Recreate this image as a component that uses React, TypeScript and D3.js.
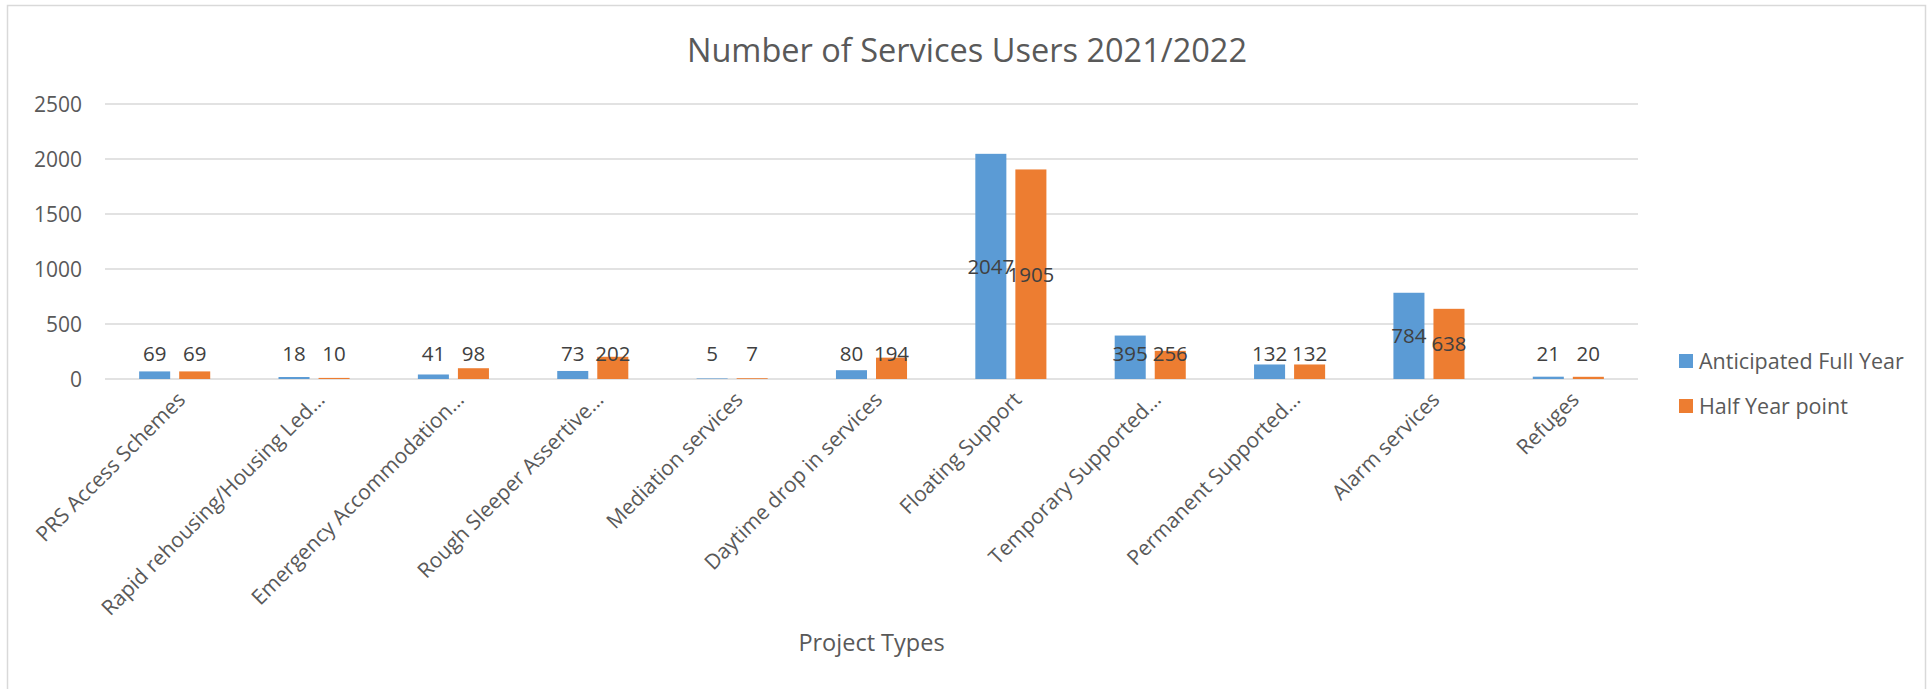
import React from "react";
import * as d3 from "d3";

const categories: string[] = [
  "PRS Access Schemes",
  "Rapid rehousing/Housing Led…",
  "Emergency Accommodation…",
  "Rough Sleeper Assertive…",
  "Mediation services",
  "Daytime drop in services",
  "Floating Support",
  "Temporary Supported…",
  "Permanent Supported…",
  "Alarm services",
  "Refuges",
];
const seriesNames: string[] = ["Anticipated Full Year", "Half Year point"];
const anticipatedFullYear: number[] = [69, 18, 41, 73, 5, 80, 2047, 395, 132, 784, 21];
const halfYearPoint: number[] = [69, 10, 98, 202, 7, 194, 1905, 256, 132, 638, 20];
const yTicks: number[] = [0, 500, 1000, 1500, 2000, 2500];
const colors: string[] = ["#5B9BD5", "#ED7D31"];

const W = 1928;
const H = 689;
const FONT = "'Open Sans', 'Segoe UI', Roboto, sans-serif";

export default function App() {
  const plotLeft = 105;
  const plotRight = 1638;
  const plotTop = 104;
  const plotBottom = 379;

  const x0 = d3.scaleBand<string>().domain(categories).range([plotLeft, plotRight]).padding(0);
  const bw0 = x0.bandwidth();
  const x1 = d3
    .scaleBand<string>()
    .domain(seriesNames)
    .range([bw0 * 0.245, bw0 * 0.755])
    .paddingInner(0.225)
    .paddingOuter(0);
  const y = d3.scaleLinear().domain([0, 2500]).range([plotBottom, plotTop]);

  const seriesValues = [anticipatedFullYear, halfYearPoint];

  return (
    <svg
      width={W}
      height={H}
      style={{ position: "absolute", left: 0, top: 0, display: "block" }}
      xmlns="http://www.w3.org/2000/svg"
    >
      <rect x={0} y={0} width={W} height={H} fill="#ffffff" />
      <rect x={7.5} y={5.5} width={1918} height={720} fill="none" stroke="#d9d9d9" strokeWidth={1.5} />

      <text
        x={967}
        y={62}
        textAnchor="middle"
        fontFamily={FONT}
        fontSize={32.5}
        fill="#595959"
      >
        Number of Services Users 2021/2022
      </text>

      {/* gridlines */}
      {yTicks.map((t) => (
        <line
          key={"g" + t}
          x1={plotLeft}
          x2={plotRight}
          y1={y(t)}
          y2={y(t)}
          stroke="#d9d9d9"
          strokeWidth={1.5}
        />
      ))}

      {/* y tick labels */}
      {yTicks.map((t) => (
        <text
          key={"t" + t}
          x={plotLeft - 23}
          y={y(t)}
          dy="0.36em"
          textAnchor="end"
          fontFamily={FONT}
          fontSize={21}
          fill="#595959"
        >
          {t}
        </text>
      ))}

      {/* bars */}
      {categories.map((c, i) => (
        <g key={"c" + i} transform={`translate(${x0(c)},0)`}>
          {seriesNames.map((s, k) => {
            const v = seriesValues[k][i];
            return (
              <rect
                key={s}
                x={x1(s)}
                y={y(v)}
                width={x1.bandwidth()}
                height={y(0) - y(v)}
                fill={colors[k]}
              />
            );
          })}
        </g>
      ))}

      {/* data labels */}
      {categories.map((c, i) =>
        seriesNames.map((s, k) => {
          const v = seriesValues[k][i];
          const cx = (x0(c) as number) + (x1(s) as number) + x1.bandwidth() / 2;
          const mid = (y(v) + y(0)) / 2;
          const ly = Math.min(mid, y(0) - 25);
          return (
            <text
              key={"l" + i + "-" + k}
              x={cx}
              y={ly}
              dy="0.36em"
              textAnchor="middle"
              fontFamily={FONT}
              fontSize={20.5}
              fill="#404040"
            >
              {v}
            </text>
          );
        })
      )}

      {/* x labels */}
      {categories.map((c) => {
        const cx = (x0(c) as number) + bw0 / 2;
        return (
          <text
            key={"x" + c}
            transform={`translate(${cx + 12},${plotBottom + 22}) rotate(-45)`}
            textAnchor="end"
            fontFamily={FONT}
            fontSize={21}
            fill="#595959"
          >
            {c}
          </text>
        );
      })}

      <text
        x={(plotLeft + plotRight) / 2}
        y={651}
        textAnchor="middle"
        fontFamily={FONT}
        fontSize={23.5}
        fill="#595959"
      >
        Project Types
      </text>

      {/* legend */}
      {seriesNames.map((s, k) => (
        <g key={"lg" + s} transform={`translate(1679,${354 + k * 45})`}>
          <rect x={0} y={0} width={14} height={14} fill={colors[k]} />
          <text x={20} y={7} dy="0.36em" fontFamily={FONT} fontSize={21.5} fill="#595959">
            {s}
          </text>
        </g>
      ))}
    </svg>
  );
}
